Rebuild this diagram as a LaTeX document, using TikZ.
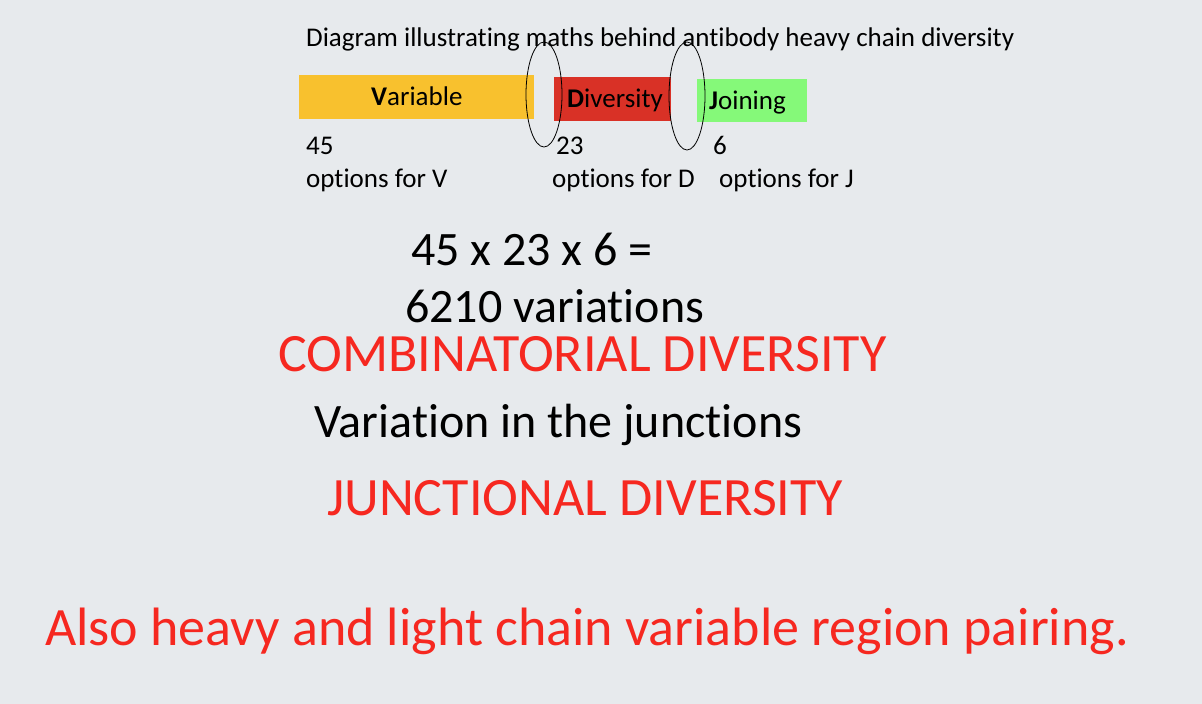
\documentclass[tikz,border=0pt]{standalone}
\usepackage{fontspec}
\setmainfont{Carlito}[Ligatures=NoCommon]
\usepackage{xcolor}
\usetikzlibrary{positioning}

\definecolor{slidebg}{RGB}{231,234,237}
\definecolor{vbox}{RGB}{248,193,46}
\definecolor{dbox}{RGB}{217,49,38}
\definecolor{jbox}{RGB}{133,249,121}
\definecolor{redtext}{RGB}{246,40,32}

\tikzset{
	lbl/.style = {inner sep = 0, anchor = base west, font = \fontsize{27}{32}\selectfont},
	big/.style = {inner sep = 0, anchor = base west, font = \fontsize{48}{56}\selectfont},
	shout/.style = {big, text = redtext, font = \fontsize{54}{62}\selectfont}
}

\begin{document}
\begin{tikzpicture}[x = 1pt, y = -1pt]
		\fill [slidebg] (0,0) rectangle (1202,704);
		\useasboundingbox (0,0) rectangle (1202,704);
		
		\node [lbl] (title) at (306,46) {Diagram illustrating maths behind antibody heavy chain diversity};
		
		\begin{scope}
			\fill [vbox] (299,75) rectangle (534,119);
			\fill [dbox] (554,77) rectangle (671,121);
			\fill [jbox] (697,79) rectangle (807,122);
			\node [lbl] (variable) at (371,105) {\textbf{V}ariable};
			\node [lbl] (diversity) at (567,107) {\textbf{D}iversity};
			\node [lbl] (joining) at (709,109) {\textbf{J}oining};
		\end{scope}
		
		\begin{scope}[line width = 0.8pt]
			\draw (544,94.5) ellipse (18 and 52.5);
			\draw (687,96) ellipse (18 and 54);
		\end{scope}
		
		\node [lbl] (nV) at (306,154) {45};
		\node [lbl] (optV) at (306,187) {options for V};
		\node [lbl] (nD) at (556,154) {23};
		\node [lbl] (optD) at (552,187) {options for D};
		\node [lbl] (nJ) at (713,154) {6};
		\node [lbl] (optJ) at (719,187) {options for J};
		
		\node [big] (product) at (411,265) {45 x 23 x 6 =};
		\node [big] (total) at (405,322) {6210 variations};
		\node [shout] (combo) at (278,371) {COMBINATORIAL DIVERSITY};
		\node [big] (junctions) at (314,437) {Variation in the junctions};
		\node [shout] (junctional) at (327,515) {JUNCTIONAL DIVERSITY};
		\node [shout] (pairing) at (45,645) {Also heavy and light chain variable region pairing.};
	\end{tikzpicture}
\end{document}
